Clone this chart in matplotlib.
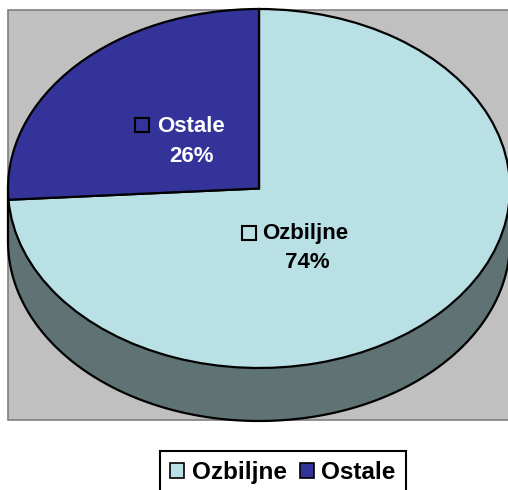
#!/usr/bin/env python3
# -*- coding: utf-8 -*-
import numpy as np
import matplotlib
matplotlib.use("Agg")
import matplotlib.pyplot as plt
from matplotlib.patches import Patch, Rectangle

plt.rcParams['font.family'] = ['Liberation Sans', 'DejaVu Sans']

labels = ['Ozbiljne', 'Ostale']
values = [74, 26]
colors = ['#B9E0E4', '#333399']
text_colors = ['black', 'white']

W, H = 508, 490
CX, CY = 259, 188.5   # centre of the top ellipse, px
RX, RY = 251, 179.5
DEPTH = 53 / RY


def px(x, y):
    return (x - CX) / RX, -(y - CY) / RY


fig = plt.figure(figsize=(W / 100, H / 100), dpi=100)
ax = fig.add_axes([0, 0, 1, 1])

ax.pie(values, colors=colors, startangle=90, counterclock=False, radius=1,
       wedgeprops=dict(edgecolor='black', linewidth=1.6, zorder=3))
ax.set_aspect('auto')
ax.set_xlim(px(0, 0)[0], px(W, 0)[0])
ax.set_ylim(px(0, H)[1], px(0, 0)[1])
ax.axis('off')

# plot area
x0, y0 = px(8, 420)
x1, y1 = px(509, 10)
ax.add_patch(Rectangle((x0, y0), x1 - x0, y1 - y0, facecolor='#C0C0C0',
                       edgecolor='#808080', linewidth=1.2, zorder=0))

# side wall of the 3D pie
t = np.linspace(np.pi, 2 * np.pi, 300)
ax.fill_between(np.cos(t), np.sin(t), np.sin(t) - DEPTH, color='#5F7375',
                linewidth=0, zorder=1)
ax.plot(np.cos(t), np.sin(t) - DEPTH, color='black', lw=1.6, zorder=2)
ax.plot([-1, -1], [0, -DEPTH], color='black', lw=1.6, zorder=2)

# data labels
name_pos = [(305.5, 233), (191, 126.5)]
pct_pos = [(307, 263), (191, 156)]
box_pos = [(249, 233), (142, 125)]
for i, lab in enumerate(labels):
    ax.text(*px(*name_pos[i]), lab, ha='center', va='center', fontsize=16,
            fontweight='bold', color=text_colors[i], zorder=5)
    ax.text(*px(*pct_pos[i]), f"{values[i]}%", ha='center', va='center',
            fontsize=16, fontweight='bold', color=text_colors[i], zorder=5)
    ax.plot(*px(*box_pos[i]), marker='s', ms=9.5, mfc=colors[i], mec='black',
            mew=1.5, zorder=5)

handles = [Patch(facecolor=c, edgecolor='black', linewidth=1.2) for c in colors]
leg = fig.legend(handles, labels, loc='upper left',
                 bbox_to_anchor=(160 / W, 1 - 451 / H), borderaxespad=0,
                 ncol=2, frameon=True, fancybox=False, edgecolor='black',
                 framealpha=1, prop=dict(size=17.5, weight='bold'),
                 handlelength=0.58, handleheight=0.6, handletextpad=0.3,
                 columnspacing=0.55, borderpad=0.42)
leg.get_frame().set_linewidth(1.5)

fig.savefig('out.png', dpi=100)
